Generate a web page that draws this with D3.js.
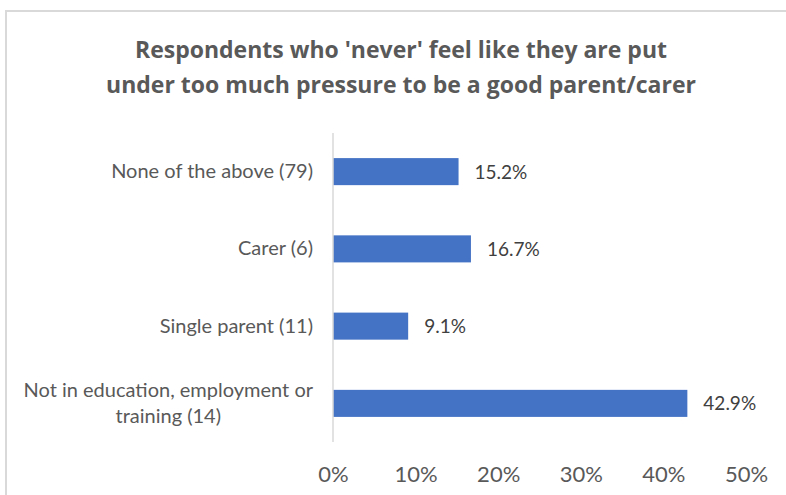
<!DOCTYPE html>
<html>
<head>
<meta charset="utf-8">
<script src="https://cdn.jsdelivr.net/npm/d3@7"></script>
<style>
  html, body { margin: 0; padding: 0; background: #fff; }
  svg { display: block; }
</style>
</head>
<body>
<svg id="chart" width="786" height="495"></svg>
<script>
// Chart data
const titleLines = [
  "Respondents who 'never' feel like they are put",
  "under too much pressure to be a good parent/carer"
];
const categories = [
  "None of the above (79)",
  "Carer (6)",
  "Single parent (11)",
  "Not in education, employment or training (14)"
];
// Wrapped form of each category label
const categoryLines = [
  ["None of the above (79)"],
  ["Carer (6)"],
  ["Single parent (11)"],
  ["Not in education, employment or", "training (14)"]
];
const values = [0.152, 0.167, 0.091, 0.429];
const valueLabels = ["15.2%", "16.7%", "9.1%", "42.9%"];
const xTicks = [0, 0.1, 0.2, 0.3, 0.4, 0.5];

const FONT = "Lato, 'Open Sans', 'Liberation Sans', sans-serif";
const TITLE_FONT = "'Open Sans', Lato, 'Liberation Sans', sans-serif";
const svg = d3.select("#chart");

// Outer chart frame
svg.append("rect")
  .attr("x", 6).attr("y", 11)
  .attr("width", 800).attr("height", 500)
  .attr("fill", "#fff")
  .attr("stroke", "#d9d9d9")
  .attr("stroke-width", 2);

// Title
svg.append("text")
  .attr("x", 401)
  .attr("text-anchor", "middle")
  .attr("font-family", TITLE_FONT)
  .attr("font-weight", "bold")
  .attr("font-size", 23)
  .attr("fill", "#595959")
  .selectAll("tspan")
  .data(titleLines)
  .join("tspan")
  .attr("x", 401)
  .attr("y", (d, i) => 58 + i * 35)
  .text(d => d);

// Scales
const x = d3.scaleLinear().domain([0, 0.5]).range([333, 746]);
const y = d3.scaleBand()
  .domain(categories)
  .range([133, 442])
  .paddingInner(0.65)
  .paddingOuter(0.325);

// Bars
svg.append("g")
  .selectAll("rect")
  .data(categories)
  .join("rect")
  .attr("x", x(0))
  .attr("y", d => y(d))
  .attr("width", (d, i) => x(values[i]) - x(0))
  .attr("height", y.bandwidth())
  .attr("fill", "#4472C4");

// Vertical category axis line
svg.append("line")
  .attr("x1", x(0)).attr("x2", x(0))
  .attr("y1", 133).attr("y2", 442)
  .attr("stroke", "#d9d9d9")
  .attr("stroke-width", 1.5);

// Category labels (multi-line labels are centred as a block, right-aligned to the axis)
const labelRight = x(0) - 20;
const catG = svg.append("g")
  .attr("font-family", FONT)
  .attr("font-size", 20)
  .attr("fill", "#595959");

categories.forEach((c, i) => {
  const lines = categoryLines[i];
  const cy = y(c) + y.bandwidth() / 2;
  const t = catG.append("text");
  const lineH = 26;
  const first = cy + 6.5 - (lines.length - 1) * lineH / 2;
  const spans = t.selectAll("tspan")
    .data(lines)
    .join("tspan")
    .attr("y", (d, k) => first + k * lineH)
    .text(d => d);
  if (lines.length === 1) {
    t.attr("text-anchor", "end");
    spans.attr("x", labelRight);
  } else {
    let w = 0;
    spans.each(function () { w = Math.max(w, this.getComputedTextLength()); });
    t.attr("text-anchor", "middle");
    spans.attr("x", labelRight - w / 2);
  }
});

// Value labels
svg.append("g")
  .attr("font-family", FONT)
  .attr("font-size", 19)
  .attr("fill", "#404040")
  .selectAll("text")
  .data(categories)
  .join("text")
  .attr("x", (d, i) => x(values[i]) + 16)
  .attr("y", d => y(d) + y.bandwidth() / 2 + 7)
  .text((d, i) => valueLabels[i]);

// Value axis tick labels
const xAxis = d3.axisBottom(x)
  .tickValues(xTicks)
  .tickFormat(d3.format(".0%"))
  .tickSize(0)
  .tickPadding(0);
const axG = svg.append("g")
  .attr("transform", "translate(0,466)")
  .call(xAxis);
axG.select(".domain").remove();
axG.selectAll("text")
  .attr("font-family", FONT)
  .attr("font-size", 22)
  .attr("fill", "#595959")
  .attr("dy", "0.72em");
</script>
</body>
</html>
